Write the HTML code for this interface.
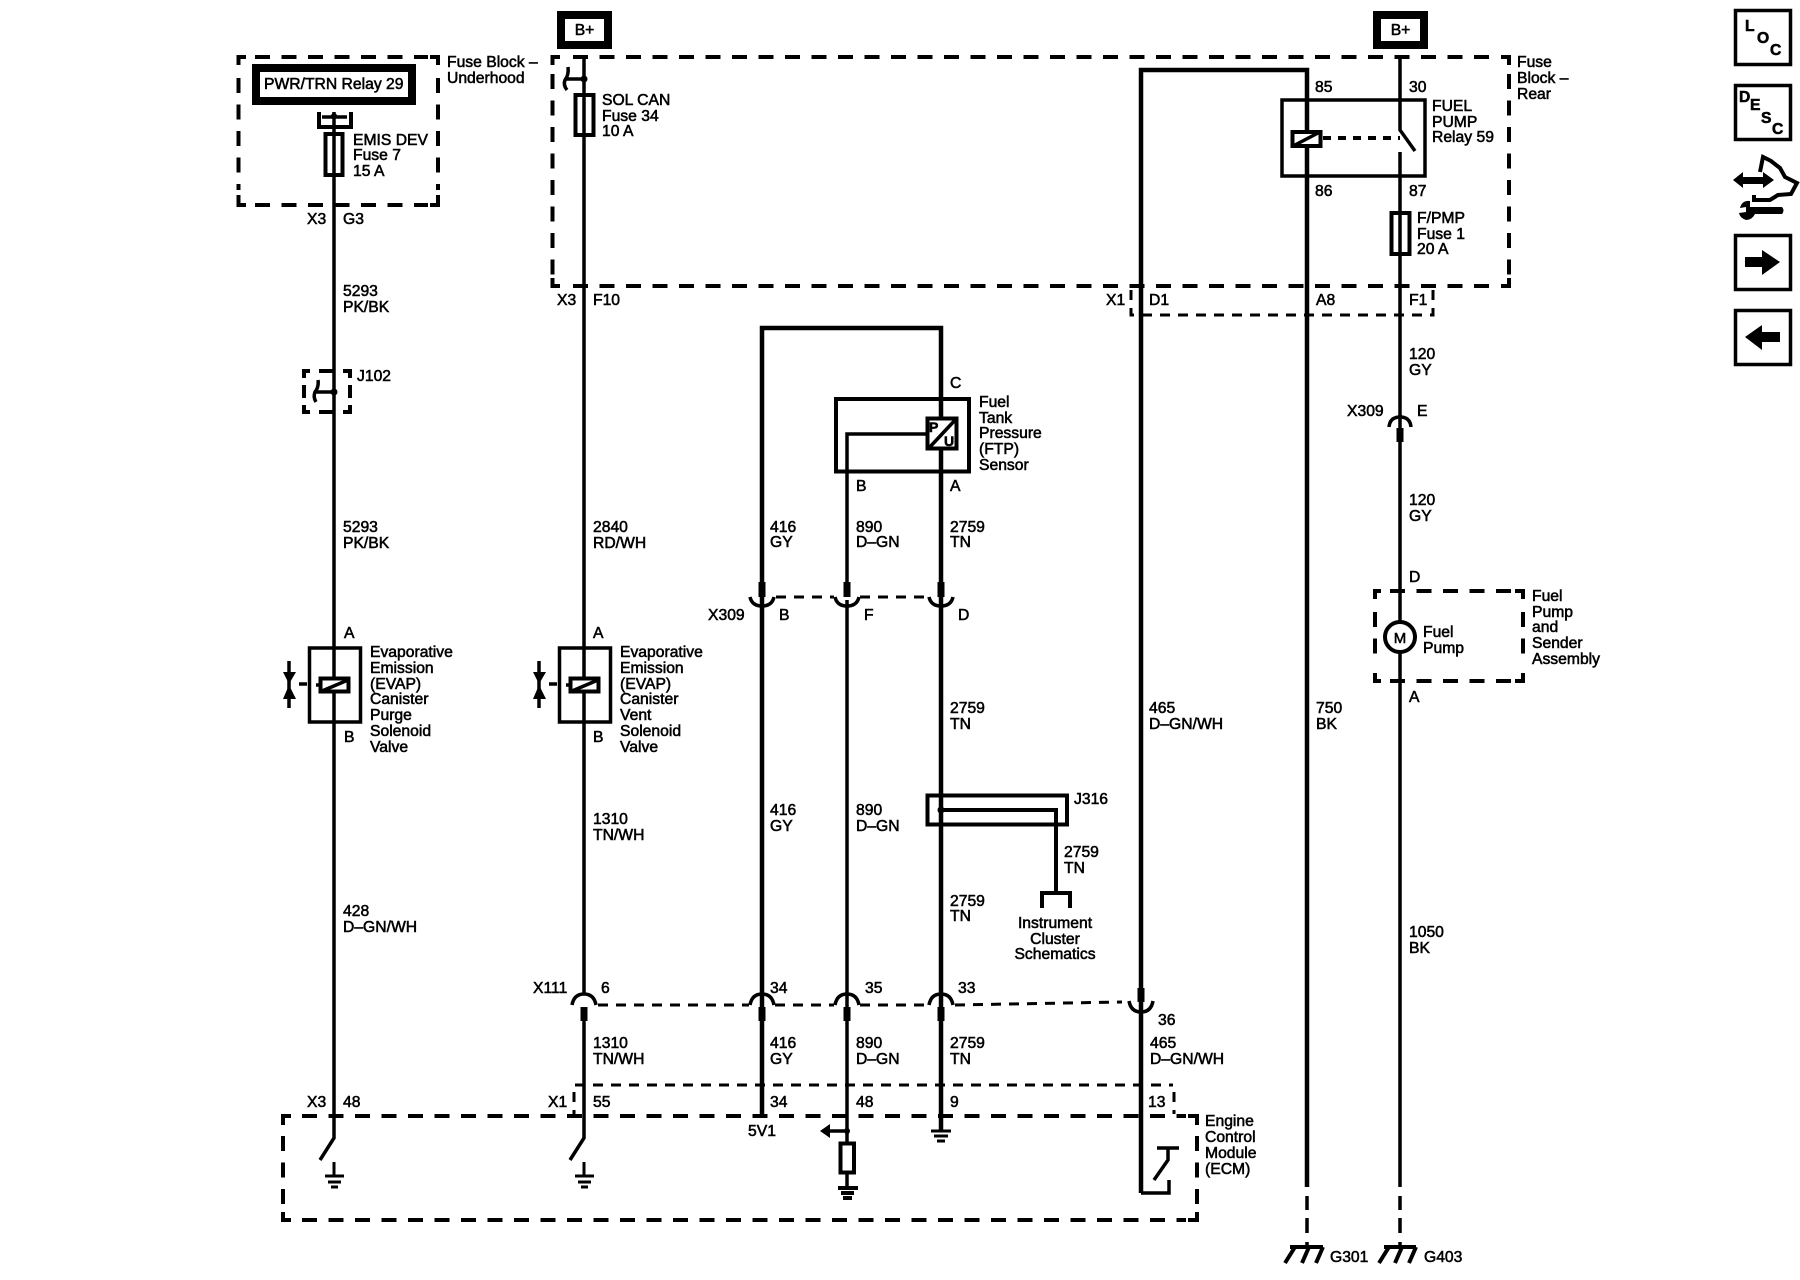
<!DOCTYPE html>
<html><head><meta charset="utf-8"><style>
html,body{margin:0;padding:0;background:#fff}
svg{display:block}
text{font-family:"Liberation Sans",Arial,sans-serif;font-size:15.7px;fill:#000;stroke:#000;stroke-width:.55}
.w,.d,.s,.t{fill:none;stroke:#000}
.d{stroke-width:4;stroke-dasharray:15 11.5}
.s{stroke-width:3;stroke-dasharray:10 8}
.t{stroke-width:4}
.w{stroke-width:3.5}
.b{font-weight:bold}
</style></head><body>
<svg width="1800" height="1280" viewBox="0 0 1800 1280" xmlns="http://www.w3.org/2000/svg">
<rect width="1800" height="1280" fill="#fff"/>

<!-- dashed enclosures -->
<path class="t" d="M238.500,65V57H246M430,57H438V65M238.500,195V205H246M430,205H438V195"/>
<path class="d" d="M255,57H428M255,205H428M238.500,78V190M438,78V190"/>
<path class="t" d="M552.500,65V57H560M1501,57H1509V65M552.500,278V286H560M1501,286H1509V278"/>
<path class="d" d="M573,57H1500M573,286H1500M552.500,74V275M1509,74V275"/>
<path class="s" d="M1131,290V315H1433V290"/>
<path class="t" d="M283,1125V1116H291M1188,1116H1197V1125M283,1212V1220H291M1188,1220H1197V1212"/>
<path class="d" d="M302,1116H1186M302,1220H1186M283,1136V1206M1197,1136V1206"/>
<path class="s" d="M575,1085H1173"/>
<path class="s" stroke-dasharray="8 6" d="M574,1092V1114M1174,1092V1114"/>
<path class="t" d="M1375,599V591H1381M1515,591H1523V599M1375,673V681H1381M1515,681H1523V673"/>
<path class="d" d="M1390,591H1514M1390,681H1514M1375,612V664M1523,612V664"/>
<path class="t" d="M304,378V371H310M343,371H350V378M304,405V412H310M343,412H350V405M304,385V398M350,385V398M319,371H333M319,412H333"/>

<!-- wires -->
<path class="w" d="M334,112V1138L320,1160"/>
<path class="w" d="M584,57V993M584,1021V1138L570,1160"/>
<path d="M762,1118V328H941V417M941,450V1130" fill="none" stroke="#000" stroke-width="4.5"/>
<path class="w" d="M847,597V434H926M847,600V1187"/>
<path d="M1141,1193V70H1307V1187" fill="none" stroke="#000" stroke-width="4.5"/>
<path class="w" d="M1141,1193H1169V1180M1154,1180L1168,1160V1148M1157,1148H1179"/>
<path class="w" d="M1400,57V130L1415,151M1400,152V1187"/>
<path class="w" d="M1307,1196V1210M1307,1218V1233M1307,1242V1248M1400,1196V1210M1400,1218V1233M1400,1242V1248"/>

<!-- boxes: relay 29, B+ -->
<rect x="256" y="68" width="156" height="33" fill="#fff" stroke="#000" stroke-width="8"/>
<rect x="561" y="15" width="47" height="30" fill="#fff" stroke="#000" stroke-width="8"/>
<rect x="1377" y="15" width="47" height="30" fill="#fff" stroke="#000" stroke-width="8"/>
<path class="t" d="M319,112V127H351V112"/><path class="w" d="M322,117H347"/><circle cx="334" cy="116" r="3"/>

<!-- fuses -->
<rect x="325.500" y="134" width="17" height="41" fill="none" stroke="#000" stroke-width="4"/>
<rect x="575.500" y="95" width="18" height="40" fill="none" stroke="#000" stroke-width="4"/>
<rect x="1391.500" y="213" width="18" height="41" fill="none" stroke="#000" stroke-width="4"/>

<!-- splice hooks -->
<path class="w" d="M566,79H584M568,67Q569,75 565,80Q563,85 567,90"/><circle cx="584" cy="79" r="3.500"/>
<path class="w" d="M314,392H334M318,380Q319,387 315,392Q313,397 316,402"/><circle cx="334" cy="392" r="3.500"/>

<!-- fuel pump relay -->
<rect x="1282" y="100" width="143" height="76" fill="none" stroke="#000" stroke-width="3.500"/>
<rect x="1292.500" y="132" width="28" height="14" fill="#fff" stroke="#000" stroke-width="4"/>
<path class="w" d="M1295,145L1318,133"/><path d="M1307,147V155M1307,125V131" stroke="#000" stroke-width="4"/>
<path fill="none" stroke="#000" stroke-width="4" stroke-dasharray="8 7" d="M1323,138H1400"/>

<!-- FTP sensor -->
<rect x="836" y="399" width="133" height="72.500" fill="none" stroke="#000" stroke-width="4"/>
<rect x="927.500" y="418.500" width="29" height="30" fill="#fff" stroke="#000" stroke-width="4"/>
<path class="w" d="M928,449L957,418"/>
<text x="929" y="432" class="b" style="font-size:14px">P</text><text x="944" y="446" class="b" style="font-size:14px">U</text>

<!-- J316 -->
<rect x="927.500" y="795.500" width="139.500" height="29" fill="none" stroke="#000" stroke-width="4"/>
<path class="t" d="M941,810H1056V892M1042,908V893H1070V908"/><circle cx="941" cy="810" r="3.500"/>

<!-- solenoids -->
<g id="sol">
<rect x="309.500" y="648" width="51" height="74" fill="none" stroke="#000" stroke-width="3.500"/>
<rect x="320.500" y="678.500" width="28" height="13" fill="#fff" stroke="#000" stroke-width="4"/>
<path class="w" d="M322,691L348,680M299,684H307M316,685H320M289,661V708"/>
<path d="M283,672H296L289,684ZM283,699H296L289,685Z"/>
</g>
<use href="#sol" x="250"/>

<!-- connectors X309 cups -->
<g fill="none" stroke="#000">
<path stroke-width="3.500" d="M750,597Q752,606 762,606Q772,606 774,597M835,597Q837,606 847,606Q857,606 859,597M929,597Q931,606 941,606Q951,606 953,597M1129,1001Q1131,1012 1141,1012Q1151,1012 1153,1001"/>
<path stroke-width="7" d="M762,582V597M847,582V597M941,582V597M1141,988V1002"/>
<path stroke-width="3.500" d="M572,1005Q574,994 584,994Q594,994 596,1005M750,1005Q752,994 762,994Q772,994 774,1005M835,1005Q837,994 847,994Q857,994 859,1005M929,1005Q931,994 941,994Q951,994 953,1005M1389,427Q1390,417 1400,417Q1410,417 1411,427"/>
<path stroke-width="7" d="M584,1007V1021M762,1007V1021M847,1007V1021M941,1007V1021M1400,428V442"/>
</g>
<path class="s" d="M776,597H834M860,597H928"/>
<path class="s" d="M598,1005H749M775,1005H834M860,1005H928M955,1005L1122,1002"/>

<!-- grounds -->
<path d="M334,1162V1176M325,1176H344M328,1182H341M331,1187H338" stroke="#000" stroke-width="3" fill="none"/>
<path d="M584,1162V1176M575,1176H594M578,1182H591M581,1187H588" stroke="#000" stroke-width="3" fill="none"/>
<path d="M931,1131H951M934,1136H948M937,1141H945" stroke="#000" stroke-width="3" fill="none"/>
<path d="M838,1188H858M841,1193H854M843,1198H852" stroke="#000" stroke-width="4" fill="none"/>
<rect x="840.500" y="1143.500" width="13.500" height="29" fill="#fff" stroke="#000" stroke-width="4"/>
<path d="M847,1131H829" stroke="#000" stroke-width="3.500"/><path d="M820,1131L830,1124V1138Z"/><circle cx="847" cy="1131" r="3"/>
<path class="t" d="M1290,1247H1323M1295,1247L1285,1263M1309,1247L1302,1263M1323,1247L1316,1263"/>
<path class="t" d="M1384,1247H1416M1389,1247L1379,1263M1402,1247L1395,1263M1416,1247L1409,1263"/>

<!-- motor -->
<circle cx="1400" cy="637" r="15" fill="#fff" stroke="#000" stroke-width="4"/>
<text x="1400" y="643" text-anchor="middle" style="font-size:15px">M</text>

<!-- labels -->
<text x="264" y="89">PWR/TRN Relay 29</text>
<text x="353" y="145">EMIS DEV</text><text x="353" y="160">Fuse 7</text><text x="353" y="176">15 A</text>
<text x="447" y="67">Fuse Block –</text><text x="447" y="83">Underhood</text>
<text x="307" y="224">X3</text><text x="343" y="224">G3</text>
<text x="343" y="296">5293</text><text x="343" y="312">PK/BK</text>
<text x="357" y="381">J102</text>
<text x="343" y="532">5293</text><text x="343" y="548">PK/BK</text>
<text x="344" y="638">A</text><text x="344" y="742">B</text>
<text x="370" y="657">Evaporative</text><text x="370" y="673">Emission</text><text x="370" y="689">(EVAP)</text><text x="370" y="704">Canister</text><text x="370" y="720">Purge</text><text x="370" y="736">Solenoid</text><text x="370" y="752">Valve</text>
<text x="343" y="916">428</text><text x="343" y="932">D–GN/WH</text>
<text x="307" y="1107">X3</text><text x="343" y="1107">48</text>

<text x="584.500" y="35" text-anchor="middle">B+</text>
<text x="602" y="105">SOL CAN</text><text x="602" y="121">Fuse 34</text><text x="602" y="136">10 A</text>
<text x="557" y="305">X3</text><text x="593" y="305">F10</text>
<text x="593" y="532">2840</text><text x="593" y="548">RD/WH</text>
<text x="593" y="638">A</text><text x="593" y="742">B</text>
<text x="620" y="657">Evaporative</text><text x="620" y="673">Emission</text><text x="620" y="689">(EVAP)</text><text x="620" y="704">Canister</text><text x="620" y="720">Vent</text><text x="620" y="736">Solenoid</text><text x="620" y="752">Valve</text>
<text x="593" y="824">1310</text><text x="593" y="840">TN/WH</text>
<text x="533" y="993">X111</text><text x="601" y="993">6</text>
<text x="593" y="1048">1310</text><text x="593" y="1064">TN/WH</text>
<text x="548" y="1107">X1</text><text x="593" y="1107">55</text>

<text x="950" y="388">C</text>
<text x="979" y="407">Fuel</text><text x="979" y="423">Tank</text><text x="979" y="438">Pressure</text><text x="979" y="454">(FTP)</text><text x="979" y="470">Sensor</text>
<text x="856" y="491">B</text><text x="950" y="491">A</text>
<text x="770" y="532">416</text><text x="770" y="547">GY</text>
<text x="856" y="532">890</text><text x="856" y="547">D–GN</text>
<text x="950" y="532">2759</text><text x="950" y="547">TN</text>
<text x="708" y="620">X309</text><text x="779" y="620">B</text><text x="864" y="620">F</text><text x="958" y="620">D</text>
<text x="950" y="713">2759</text><text x="950" y="729">TN</text>
<text x="770" y="815">416</text><text x="770" y="831">GY</text>
<text x="856" y="815">890</text><text x="856" y="831">D–GN</text>
<text x="1074" y="804">J316</text>
<text x="1064" y="857">2759</text><text x="1064" y="873">TN</text>
<text x="950" y="906">2759</text><text x="950" y="921">TN</text>
<text x="1055" y="928" text-anchor="middle">Instrument</text><text x="1055" y="944" text-anchor="middle">Cluster</text><text x="1055" y="959" text-anchor="middle">Schematics</text>
<text x="770" y="993">34</text><text x="865" y="993">35</text><text x="958" y="993">33</text>
<text x="770" y="1048">416</text><text x="770" y="1064">GY</text>
<text x="856" y="1048">890</text><text x="856" y="1064">D–GN</text>
<text x="950" y="1048">2759</text><text x="950" y="1064">TN</text>
<text x="770" y="1107">34</text><text x="856" y="1107">48</text><text x="950" y="1107">9</text>
<text x="748" y="1136">5V1</text>

<text x="1106" y="305">X1</text><text x="1149" y="305">D1</text><text x="1316" y="305">A8</text><text x="1409" y="305">F1</text>
<text x="1149" y="713">465</text><text x="1149" y="729">D–GN/WH</text>
<text x="1158" y="1025">36</text>
<text x="1150" y="1048">465</text><text x="1150" y="1064">D–GN/WH</text>
<text x="1148" y="1107">13</text>
<text x="1205" y="1126">Engine</text><text x="1205" y="1142">Control</text><text x="1205" y="1158">Module</text><text x="1205" y="1174">(ECM)</text>

<text x="1400.500" y="35" text-anchor="middle">B+</text>
<text x="1315" y="92">85</text><text x="1409" y="92">30</text>
<text x="1432" y="111">FUEL</text><text x="1432" y="127">PUMP</text><text x="1432" y="142">Relay 59</text>
<text x="1315" y="196">86</text><text x="1409" y="196">87</text>
<text x="1417" y="223">F/PMP</text><text x="1417" y="239">Fuse 1</text><text x="1417" y="254">20 A</text>
<text x="1517" y="67">Fuse</text><text x="1517" y="83">Block –</text><text x="1517" y="99">Rear</text>
<text x="1409" y="359">120</text><text x="1409" y="375">GY</text>
<text x="1347" y="416">X309</text><text x="1417" y="416">E</text>
<text x="1409" y="505">120</text><text x="1409" y="521">GY</text>
<text x="1409" y="582">D</text>
<text x="1423" y="637">Fuel</text><text x="1423" y="653">Pump</text>
<text x="1532" y="601">Fuel</text><text x="1532" y="617">Pump</text><text x="1532" y="632">and</text><text x="1532" y="648">Sender</text><text x="1532" y="664">Assembly</text>
<text x="1409" y="702">A</text>
<text x="1316" y="713">750</text><text x="1316" y="729">BK</text>
<text x="1409" y="937">1050</text><text x="1409" y="953">BK</text>
<text x="1330" y="1262">G301</text><text x="1424" y="1262">G403</text>

<!-- side icons -->
<rect x="1735.500" y="10.500" width="55" height="54" fill="none" stroke="#000" stroke-width="3.500"/>
<text x="1745" y="31" class="b">L</text><text x="1757" y="43" class="b">O</text><text x="1770" y="55" class="b">C</text>
<rect x="1735.500" y="85.500" width="55" height="54" fill="none" stroke="#000" stroke-width="3.500"/>
<text x="1739" y="102" class="b">D</text><text x="1750" y="110" class="b">E</text><text x="1761" y="123" class="b">S</text><text x="1772" y="134" class="b">C</text>
<path d="M1733,180L1743,172V177H1763V172L1774,180L1763,188V184H1743V188Z"/>
<path class="t" stroke-width="4.5" d="M1760,172L1763,157L1771,161L1780,168L1785,177L1797,183L1791,194L1778,195L1770,200H1754V195"/>
<path d="M1750,207H1782Q1785,210.500 1782,214H1755Q1752,220 1746,220Q1740,218 1739,213L1746,212V207L1740,208Q1742,200 1750,201Z"/>
<rect x="1735.500" y="235.500" width="55" height="54" fill="none" stroke="#000" stroke-width="3.500"/>
<path d="M1745,257H1762V250L1780,262L1762,275V267H1745Z"/>
<rect x="1735.500" y="310.500" width="55" height="54" fill="none" stroke="#000" stroke-width="3.500"/>
<path d="M1780,332H1762V325L1745,337L1762,350V342H1780Z"/>
</svg>
</body></html>
